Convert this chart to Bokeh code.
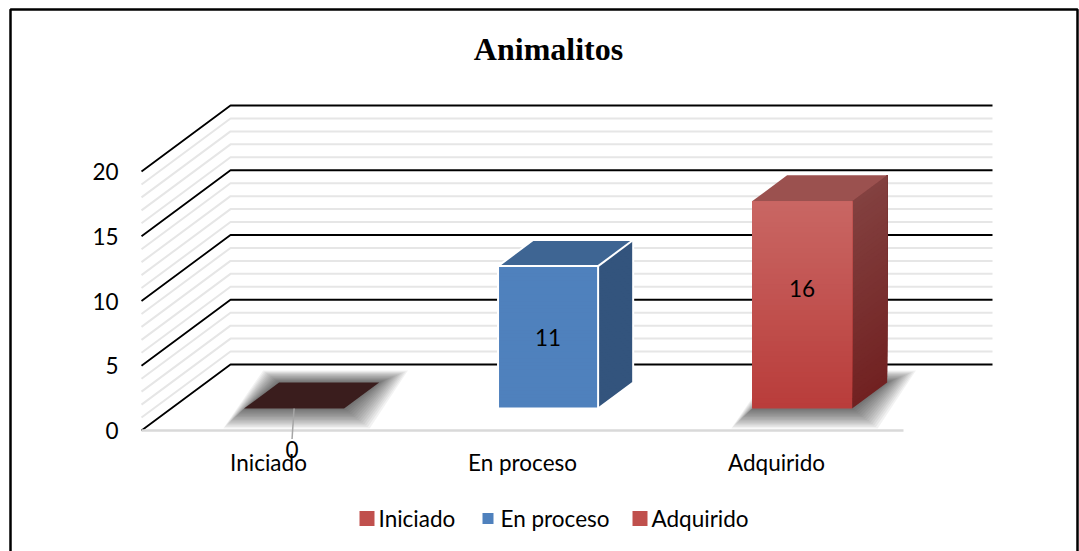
from bokeh.plotting import figure
from bokeh.models import Range1d, BoxAnnotation
from bokeh.core.properties import value
from bokeh.embed import file_html
from bokeh.resources import INLINE

# ---- data ----
categories = ["Iniciado", "En proceso", "Adquirido"]
counts = [0, 11, 16]
y_ticks = [0, 5, 10, 15, 20]
title_text = "Animalitos"

# ---- styling ----
FONT = "Lato"
FSIZE = "22.5px"
front_top = ["#3a1d1d", "#4f81bd", "#c96764"]
front_bot = ["#3a1d1d", "#4f81bd", "#b93c3a"]
side_top = ["#3a1d1d", "#33547d", "#834140"]
side_bot = ["#3a1d1d", "#33547d", "#712121"]
top_col = ["#3a1d1d", "#3e6593", "#9b514f"]
edge_col = [None, "white", None]
has_shadow = [True, False, True]
label_frac = [0.0, 0.5, 0.58]
legend_col = ["#c0504d", "#4f81bd", "#c0504d"]
legend_size = [15, 11, 15]

W, H = 1079, 551
# screen geometry of the plotting box (pixels per unit)
X0PX, UX = 141.0, 254.0
Y0PX, UY = 430.0, 12.95
DX, DY = 89.0 / UX, 66.0 / UY      # full floor depth in data units
T0, T1 = 0.333, 0.727              # bar depth span
HALF = 0.197                       # half bar width
SHIFT = -0.016


def pxd(px, py):
    return (px - X0PX) / UX, (Y0PX - py) / UY


def proj(x, y, t):
    return x + t * DX, y + t * DY


def mix(c1, c2, f):
    a = [int(c1[i:i + 2], 16) for i in (1, 3, 5)]
    b = [int(c2[i:i + 2], 16) for i in (1, 3, 5)]
    return "#%02x%02x%02x" % tuple(round(a[k] + (b[k] - a[k]) * f) for k in range(3))


def poly(pts, **kw):
    p.patch([q[0] for q in pts], [q[1] for q in pts], **kw)


p = figure(width=W, height=H, output_backend="svg", toolbar_location=None,
           x_range=Range1d(-X0PX / UX, (W - X0PX) / UX),
           y_range=Range1d((Y0PX - H) / UY, Y0PX / UY),
           min_border=0, background_fill_color="white",
           border_fill_color="white", outline_line_color=None)
p.axis.visible = False
p.grid.visible = False

n_cat = len(categories)
ymax = y_ticks[-1]

# ---- walls: minor and major gridlines (left wall diagonal + back wall) ----
minor_xs, minor_ys, major_xs, major_ys = [], [], [], []
for v in range(0, ymax + 1):
    bx, by = proj(0, v, 1)
    xs = [0, bx, bx + n_cat]
    ys = [v, by, by]
    if v in y_ticks:
        major_xs.append(xs); major_ys.append(ys)
    else:
        minor_xs.append(xs); minor_ys.append(ys)
p.multi_line(minor_xs, minor_ys, line_color="#e6e6e6", line_width=2)
p.multi_line(major_xs, major_ys, line_color="black", line_width=1.8)

# floor front edge
p.line([0, n_cat], [0, 0], line_color="#d9d9d9", line_width=2.5)

# ---- bars ----
for i, (cat, v) in enumerate(zip(categories, counts)):
    cx = i + 0.5 + SHIFT
    x0, x1 = cx - HALF, cx + HALF

    if has_shadow[i]:
        fp = [proj(x0, 0, T0), proj(x1, 0, T0), proj(x1, 0, T1), proj(x0, 0, T1)]
        n_sh = 14
        for k in range(n_sh, 0, -1):
            gx = 0.0045 * k
            gy = 0.11 * k
            sx = [fp[0][0] - gx * 1.3, fp[1][0] + gx * 1.6, fp[2][0] + gx * 1.8, fp[3][0] - gx]
            sy = [fp[0][1] - gy, fp[1][1] - gy, fp[2][1] + gy * 0.6, fp[3][1] + gy * 0.6]
            p.patch(sx, sy, fill_color="black", fill_alpha=0.05, line_color=None)

    if v == 0:
        poly([proj(x0, 0, T0), proj(x1, 0, T0), proj(x1, 0, T1), proj(x0, 0, T1)],
             fill_color=front_top[i], line_color=None)
        continue

    n = 40
    # right side face (gradient, each band runs to the top so no seams show)
    for k in range(n):
        ya = v * k / n
        c = mix(side_bot[i], side_top[i], (k + 0.5) / n)
        poly([proj(x1, ya, T0), proj(x1, ya, T1), proj(x1, v, T1), proj(x1, v, T0)],
             fill_color=c, line_color=None)
    # top face
    poly([proj(x0, v, T0), proj(x1, v, T0), proj(x1, v, T1), proj(x0, v, T1)],
         fill_color=top_col[i], line_color=None)
    # front face (gradient)
    for k in range(n):
        ya = v * k / n
        c = mix(front_bot[i], front_top[i], (k + 0.5) / n)
        poly([proj(x0, ya, T0), proj(x1, ya, T0), proj(x1, v, T0), proj(x0, v, T0)],
             fill_color=c, line_color=None)
    if edge_col[i]:
        outl = [proj(x0, 0, T0), proj(x1, 0, T0), proj(x1, 0, T1), proj(x1, v, T1),
                proj(x0, v, T1), proj(x0, v, T0), proj(x0, 0, T0)]
        p.line([q[0] for q in outl], [q[1] for q in outl], line_color=edge_col[i], line_width=2)
        inner = [proj(x0, v, T0), proj(x1, v, T0), proj(x1, 0, T0)]
        p.line([q[0] for q in inner], [q[1] for q in inner], line_color=edge_col[i], line_width=2)
        a, b = proj(x1, v, T0), proj(x1, v, T1)
        p.line([a[0], b[0]], [a[1], b[1]], line_color=edge_col[i], line_width=2)

# ---- data labels ----
for i, v in enumerate(counts):
    cx = i + 0.5 + SHIFT
    if v == 0:
        bx, by = proj(cx, 0, T0)
        lx, ly = bx - 0.008, by - 2.35
        p.line([bx, lx], [by, ly], line_color="#a6a6a6", line_width=1.5)
        p.text([lx], [ly - 0.85], text=[str(v)], text_font=value(FONT),
               text_font_size=FSIZE, text_align="center", text_baseline="middle",
               text_color="black")
    else:
        lx, ly = proj(cx, v * label_frac[i], T0)
        p.text([lx], [ly], text=[str(v)], text_font=value(FONT),
               text_font_size=FSIZE, text_align="center", text_baseline="middle",
               text_color="black")

# ---- y tick labels ----
tx, _ = pxd(118, 0)
p.text([tx] * len(y_ticks), y_ticks, text=[str(t) for t in y_ticks],
       text_font=value(FONT), text_font_size=FSIZE, text_align="right",
       text_baseline="middle", text_color="black")

# ---- category labels ----
_, cy = pxd(0, 462)
p.text([i + 0.5 for i in range(n_cat)], [cy] * n_cat, text=categories,
       text_font=value(FONT), text_font_size=FSIZE, text_align="center",
       text_baseline="middle", text_color="black")

# ---- title ----
tx, ty = pxd(548, 48)
p.text([tx], [ty], text=[title_text], text_font=value("Liberation Serif"),
       text_font_size="32px", text_font_style="bold", text_align="center",
       text_baseline="middle", text_color="black")

# ---- legend ----
leg_x = [359, 482, 632]
leg_tx = [378, 500, 651]
for i, cat in enumerate(categories):
    s = legend_size[i]
    l, b = pxd(leg_x[i], 518 + s / 2.0)
    r, t = pxd(leg_x[i] + s, 518 - s / 2.0)
    p.quad(left=[l], right=[r], bottom=[b], top=[t], fill_color=legend_col[i], line_color=None)
    lx, ly = pxd(leg_tx[i], 518)
    p.text([lx], [ly], text=[cat], text_font=value(FONT), text_font_size=FSIZE,
           text_align="left", text_baseline="middle", text_color="black")

# ---- outer frame ----
fl, ft = pxd(10, 9)
fr, fb = pxd(1077, 600)
p.add_layout(BoxAnnotation(left=fl, right=fr, top=ft, bottom=fb, fill_alpha=0,
                           line_color="black", line_alpha=1.0, line_width=2.5))

open("out.html", "w").write(file_html(p, INLINE))
